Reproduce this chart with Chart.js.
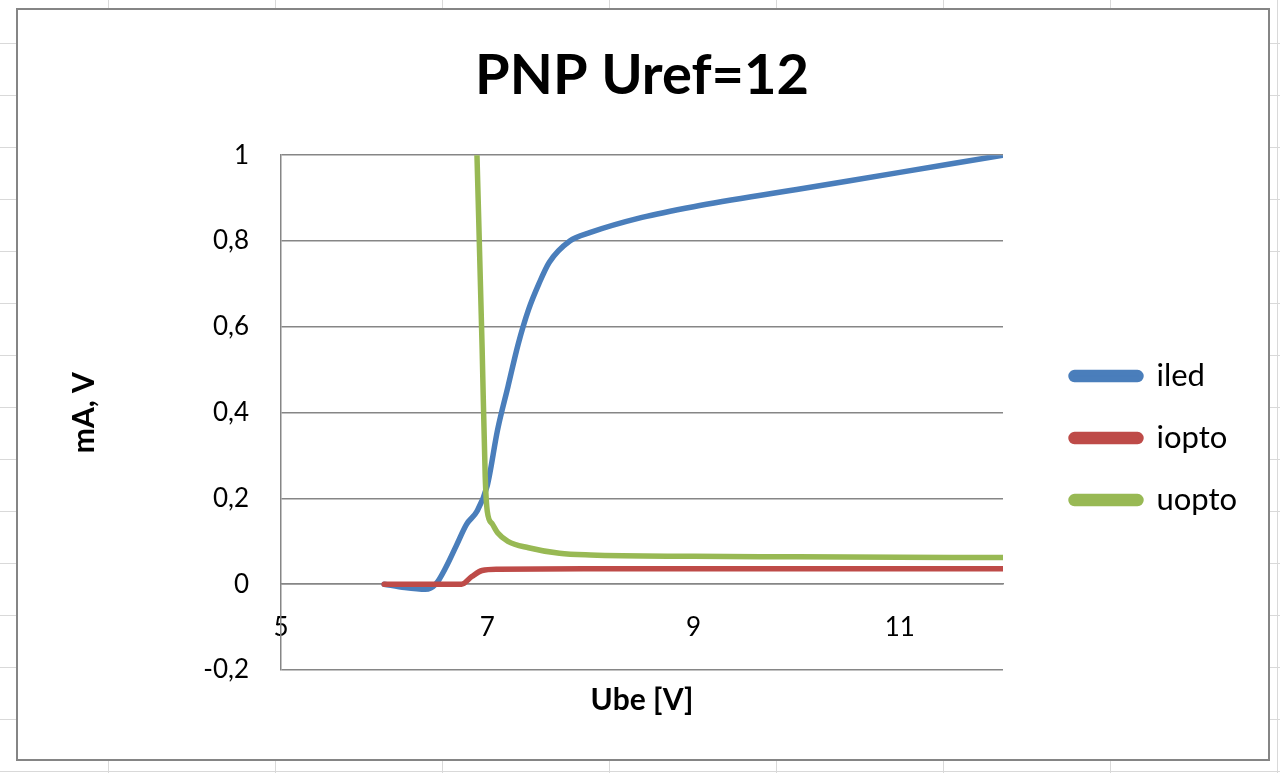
<!DOCTYPE html>
<html>
<head>
<meta charset="utf-8">
<script src="https://cdn.jsdelivr.net/npm/chart.js@4.4.0/dist/chart.umd.min.js"></script>
<style>
  html, body { margin: 0; padding: 0; }
  body {
    width: 1280px; height: 773px; overflow: hidden; position: relative;
    background-color: #fff;
    background-image:
      linear-gradient(to right, #d9d9d9 1px, transparent 1px),
      linear-gradient(to bottom, #d9d9d9 1px, transparent 1px);
    background-size: 167px 52px;
    background-position: 108px 43px;
  }
  #frame {
    position: absolute; left: 16px; top: 8px; width: 1250px; height: 749px;
    background: #fff; border: 2px solid #858585;
  }
  #wrap { position: absolute; left: 0; top: 0; width: 1280px; height: 773px; }
</style>
</head>
<body>
<div id="frame"></div>
<div id="wrap"><canvas id="myChart" width="1280" height="773"></canvas></div>
<script>
// Ube [V] against current / voltage
const ubeIled = [6.0, 6.2, 6.4, 6.5, 6.6, 6.7, 6.8, 6.9, 7.0, 7.1, 7.2, 7.3, 7.4, 7.5, 7.6, 7.8, 8.0, 8.5, 9, 10, 11, 12];
const iled = [0.0, -0.008, -0.012, 0.0, 0.04, 0.09, 0.14, 0.17, 0.23, 0.36, 0.46, 0.56, 0.64, 0.70, 0.75, 0.80, 0.82, 0.855, 0.88, 0.92, 0.96, 1.0];

const ubeIopto = [6.0, 6.5, 6.75, 6.85, 6.95, 7.1, 8, 9, 10, 11, 12];
const iopto = [0.0, 0.0, 0.0, 0.018, 0.032, 0.035, 0.036, 0.036, 0.036, 0.036, 0.036];

const ubeUopto = [6.9, 6.95, 6.98, 7.0, 7.05, 7.1, 7.2, 7.4, 7.7, 8, 9, 10, 11, 12];
const uopto = [1.0, 0.55, 0.25, 0.17, 0.14, 0.12, 0.10, 0.085, 0.072, 0.068, 0.065, 0.064, 0.063, 0.062];

const xTicks = [5, 7, 9, 11];
const yTicks = [-0.2, 0, 0.2, 0.4, 0.6, 0.8, 1];

const toPoints = (xs, ys) => xs.map((x, i) => ({ x: x, y: ys[i] }));
const fmt = (v) => String(Number(v.toFixed(1))).replace('.', ',');
const font = 'Lato, "Open Sans", sans-serif';

const ctx = document.getElementById('myChart').getContext('2d');
const myChart = new Chart(ctx, {
  type: 'scatter',
  data: {
    datasets: [
      { label: 'iled', data: toPoints(ubeIled, iled), borderColor: '#4a7ebb', backgroundColor: '#4a7ebb', order: 3 },
      { label: 'iopto', data: toPoints(ubeIopto, iopto), borderColor: '#be4b48', backgroundColor: '#be4b48', order: 2 },
      { label: 'uopto', data: toPoints(ubeUopto, uopto), borderColor: '#98b954', backgroundColor: '#98b954', order: 1 },
    ],
  },
  options: {
    responsive: false,
    animation: false,
    devicePixelRatio: 1,
    datasets: {
      scatter: { showLine: true, pointRadius: 0, borderWidth: 5.5, cubicInterpolationMode: 'monotone', borderCapStyle: 'round' },
    },
    layout: { padding: { top: 20, left: 45, right: 41, bottom: 51 } },
    plugins: {
      title: {
        display: true,
        text: 'PNP Uref=12',
        color: '#000',
        font: { family: font, size: 56, weight: 'bold' },
        padding: { top: 22, bottom: 46 },
      },
      legend: {
        position: 'right',
        fullSize: false,
        title: { display: true, text: ' ', font: { size: 10 }, padding: { top: 20, bottom: 19 } },
        labels: {
          color: '#000',
          font: { family: font, size: 31 },
          boxWidth: 70,
          boxHeight: 7,
          useBorderRadius: true,
          borderRadius: 3.5,
          padding: 31,
          sort: (a, b) => a.datasetIndex - b.datasetIndex,
        },
      },
      tooltip: { enabled: false },
    },
    scales: {
      x: {
        type: 'linear',
        position: { y: 0 },
        min: 5,
        max: 12,
        afterBuildTicks: (s) => { s.ticks = xTicks.map((v) => ({ value: v })); },
        grid: { display: false },
        border: { display: true, color: '#868686', width: 1.5 },
        ticks: { color: '#000', padding: 20, maxRotation: 0, font: { family: font, size: 26 } },
      },
      xTitle: {
        type: 'linear',
        position: 'bottom',
        axis: 'x',
        min: 5,
        max: 12,
        grid: { display: false, drawTicks: false },
        border: { display: false },
        ticks: { display: false },
        title: { display: true, text: 'Ube [V]', color: '#000', font: { family: font, size: 30, weight: 'bold' }, padding: { top: 12, bottom: 4 } },
        afterFit: (s) => { s.height = 52; },
      },
      y: {
        min: -0.2,
        max: 1,
        afterBuildTicks: (s) => { s.ticks = yTicks.map((v) => ({ value: v })); },
        grid: { color: '#868686', lineWidth: 1.5, drawTicks: false },
        border: { display: true, color: '#868686', width: 1.5 },
        ticks: { color: '#000', padding: 32, font: { family: font, size: 26 }, callback: (v) => fmt(v) },
        title: { display: true, text: 'mA, V', color: '#000', font: { family: font, size: 30, weight: 'bold' }, padding: { top: 21 } },
        afterFit: (s) => { s.width = 236; },
      },
      // empty right axis: keeps the gap between plot and legend
      yGap: {
        position: 'right',
        axis: 'y',
        min: -0.2,
        max: 1,
        grid: { display: false, drawTicks: false },
        border: { display: false },
        ticks: { display: false },
        afterFit: (s) => { s.width = 37; },
      },
    },
  },
});
</script>
</body>
</html>
